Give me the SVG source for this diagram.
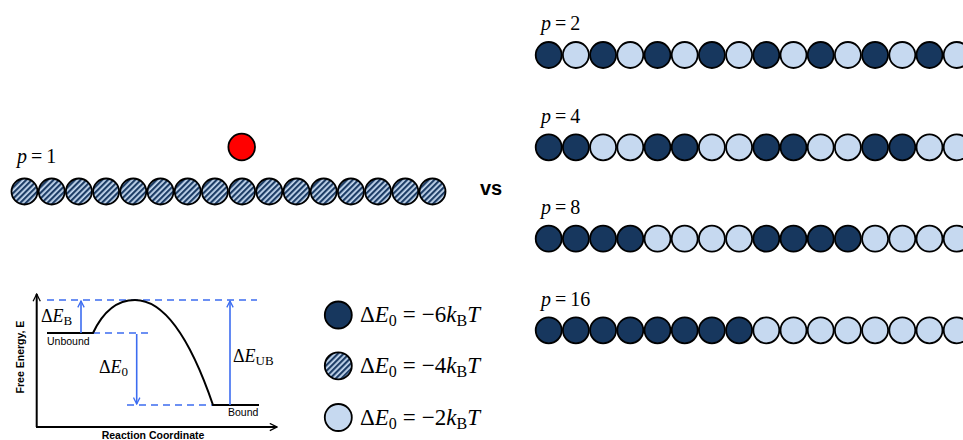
<svg xmlns="http://www.w3.org/2000/svg" width="963" height="440" viewBox="0 0 963 440">
<defs>
<pattern id="hatch" width="4" height="4" patternUnits="userSpaceOnUse" patternTransform="rotate(45)">
<rect width="4" height="4" fill="#c6d9f0"/>
<rect width="2.2" height="4" fill="#1d3d66"/>
</pattern>
<circle id="bd" r="13" class="dark"/>
<circle id="bl" r="13" class="light"/>
<circle id="bh" r="13" class="hatch"/>
<marker id="ab" viewBox="0 0 10 10" refX="9" refY="5" markerWidth="8" markerHeight="8" orient="auto" markerUnits="userSpaceOnUse">
<polyline points="1,1 9,5 1,9" fill="none" stroke="#3c6cf0" stroke-width="1.6"/>
</marker>
<marker id="ak" viewBox="0 0 10 10" refX="9" refY="5" markerWidth="9" markerHeight="9" orient="auto" markerUnits="userSpaceOnUse">
<polyline points="1,1 9,5 1,9" fill="none" stroke="#000" stroke-width="1.4"/>
</marker>
</defs>
<style>
.dark{fill:#17375e;stroke:#000;stroke-width:1.8}
.light{fill:#c6d9f0;stroke:#000;stroke-width:1.8}
.hatch{fill:url(#hatch);stroke:#000;stroke-width:1.8}
.m{font-family:"Liberation Serif","DejaVu Serif",serif;fill:#000}
.i{font-style:italic}
.s{font-family:"Liberation Sans",Arial,sans-serif;fill:#000}
.dash{stroke:#3c6cf0;stroke-width:1.6;stroke-dasharray:7,5;fill:none}
.blu{stroke:#3c6cf0;stroke-width:1.6;fill:none;marker-end:url(#ab)}
.blk{stroke:#000;stroke-width:2;fill:none}
</style>
<rect width="963" height="440" fill="#fff"/>

<g id="chain-p1">
<text class="m" x="17" y="163" font-size="20"><tspan class="i">p</tspan><tspan dx="4">=</tspan><tspan dx="4">1</tspan></text>
<g transform="translate(24.5,191.5)">
<use href="#bh" x="0"/><use href="#bh" x="27.2"/><use href="#bh" x="54.4"/><use href="#bh" x="81.6"/>
<use href="#bh" x="108.8"/><use href="#bh" x="136"/><use href="#bh" x="163.2"/><use href="#bh" x="190.4"/>
<use href="#bh" x="217.6"/><use href="#bh" x="244.8"/><use href="#bh" x="272"/><use href="#bh" x="299.2"/>
<use href="#bh" x="326.4"/><use href="#bh" x="353.6"/><use href="#bh" x="380.8"/><use href="#bh" x="408"/>
</g>
</g>
<g id="ligand"><circle cx="241.7" cy="147" r="13.3" fill="#ff0000" stroke="#000" stroke-width="1.8"/></g>
<g id="vs"><text class="s" x="480" y="195" font-size="20" font-weight="bold">vs</text></g>

<g id="chain-p2">
<text class="m" x="541" y="30" font-size="20"><tspan class="i">p</tspan><tspan dx="4">=</tspan><tspan dx="4">2</tspan></text>
<g transform="translate(548.7,55)">
<use href="#bd" x="0"/><use href="#bl" x="27.2"/><use href="#bd" x="54.4"/><use href="#bl" x="81.6"/>
<use href="#bd" x="108.8"/><use href="#bl" x="136"/><use href="#bd" x="163.2"/><use href="#bl" x="190.4"/>
<use href="#bd" x="217.6"/><use href="#bl" x="244.8"/><use href="#bd" x="272"/><use href="#bl" x="299.2"/>
<use href="#bd" x="326.4"/><use href="#bl" x="353.6"/><use href="#bd" x="380.8"/><use href="#bl" x="408"/>
</g>
</g>
<g id="chain-p4">
<text class="m" x="541" y="123" font-size="20"><tspan class="i">p</tspan><tspan dx="4">=</tspan><tspan dx="4">4</tspan></text>
<g transform="translate(548.7,147.3)">
<use href="#bd" x="0"/><use href="#bd" x="27.2"/><use href="#bl" x="54.4"/><use href="#bl" x="81.6"/>
<use href="#bd" x="108.8"/><use href="#bd" x="136"/><use href="#bl" x="163.2"/><use href="#bl" x="190.4"/>
<use href="#bd" x="217.6"/><use href="#bd" x="244.8"/><use href="#bl" x="272"/><use href="#bl" x="299.2"/>
<use href="#bd" x="326.4"/><use href="#bd" x="353.6"/><use href="#bl" x="380.8"/><use href="#bl" x="408"/>
</g>
</g>
<g id="chain-p8">
<text class="m" x="541" y="214" font-size="20"><tspan class="i">p</tspan><tspan dx="4">=</tspan><tspan dx="4">8</tspan></text>
<g transform="translate(548.7,238.7)">
<use href="#bd" x="0"/><use href="#bd" x="27.2"/><use href="#bd" x="54.4"/><use href="#bd" x="81.6"/>
<use href="#bl" x="108.8"/><use href="#bl" x="136"/><use href="#bl" x="163.2"/><use href="#bl" x="190.4"/>
<use href="#bd" x="217.6"/><use href="#bd" x="244.8"/><use href="#bd" x="272"/><use href="#bd" x="299.2"/>
<use href="#bl" x="326.4"/><use href="#bl" x="353.6"/><use href="#bl" x="380.8"/><use href="#bl" x="408"/>
</g>
</g>
<g id="chain-p16">
<text class="m" x="541" y="306" font-size="20"><tspan class="i">p</tspan><tspan dx="4">=</tspan><tspan dx="4">16</tspan></text>
<g transform="translate(548.7,330.3)">
<use href="#bd" x="0"/><use href="#bd" x="27.2"/><use href="#bd" x="54.4"/><use href="#bd" x="81.6"/>
<use href="#bd" x="108.8"/><use href="#bd" x="136"/><use href="#bd" x="163.2"/><use href="#bd" x="190.4"/>
<use href="#bl" x="217.6"/><use href="#bl" x="244.8"/><use href="#bl" x="272"/><use href="#bl" x="299.2"/>
<use href="#bl" x="326.4"/><use href="#bl" x="353.6"/><use href="#bl" x="380.8"/><use href="#bl" x="408"/>
</g>
</g>

<g id="legend-6">
<circle cx="338.3" cy="315" r="13.5" class="dark"/>
<text class="m" x="360" y="322" font-size="23">Δ<tspan class="i">E</tspan><tspan font-size="16" dy="4">0</tspan><tspan dy="-4" dx="6">=</tspan><tspan dx="6">−6</tspan><tspan class="i">k</tspan><tspan font-size="16" dy="4">B</tspan><tspan class="i" dy="-4">T</tspan></text>
</g>
<g id="legend-4">
<circle cx="338.3" cy="365.8" r="13.5" class="hatch"/>
<text class="m" x="360" y="373" font-size="23">Δ<tspan class="i">E</tspan><tspan font-size="16" dy="4">0</tspan><tspan dy="-4" dx="6">=</tspan><tspan dx="6">−4</tspan><tspan class="i">k</tspan><tspan font-size="16" dy="4">B</tspan><tspan class="i" dy="-4">T</tspan></text>
</g>
<g id="legend-2">
<circle cx="338.3" cy="417.5" r="13.5" class="light"/>
<text class="m" x="360" y="424.5" font-size="23">Δ<tspan class="i">E</tspan><tspan font-size="16" dy="4">0</tspan><tspan dy="-4" dx="6">=</tspan><tspan dx="6">−2</tspan><tspan class="i">k</tspan><tspan font-size="16" dy="4">B</tspan><tspan class="i" dy="-4">T</tspan></text>
</g>

<g id="energy-diagram">
<text class="s" font-size="10.5" font-weight="bold" transform="translate(24,357) rotate(-90)" text-anchor="middle">Free Energy, E</text>
<text class="s" x="153" y="438.5" font-size="10.5" font-weight="bold" text-anchor="middle">Reaction Coordinate</text>
<text class="s" x="47" y="344.5" font-size="10.5">Unbound</text>
<text class="s" x="228" y="416" font-size="10.5">Bound</text>
<text class="m" x="41" y="322" font-size="18">Δ<tspan class="i">E</tspan><tspan font-size="13" dy="3">B</tspan></text>
<text class="m" x="99" y="373" font-size="18">Δ<tspan class="i">E</tspan><tspan font-size="13" dy="3">0</tspan></text>
<text class="m" x="233" y="362" font-size="18">Δ<tspan class="i">E</tspan><tspan font-size="13" dy="3">UB</tspan></text>
</g>

<g id="connectors">
<path d="M36.7,427 V294" class="blk" stroke-width="1.4" style="marker-end:url(#ak)"/>
<path d="M36,427 H277" class="blk" stroke-width="1.4" style="marker-end:url(#ak)"/>
<path d="M47,300 H257" class="dash"/>
<path d="M93,333 H148" class="dash"/>
<path d="M127,405 H213" class="dash"/>
<path d="M47,333 H93 C101,316 114,300 135,300 C164,300 190,338 213,405 H259" class="blk"/>
<path d="M81,333 V301" class="blu"/>
<path d="M136.7,334 V404" class="blu"/>
<path d="M230,405 V301" class="blu"/>
</g>
</svg>
